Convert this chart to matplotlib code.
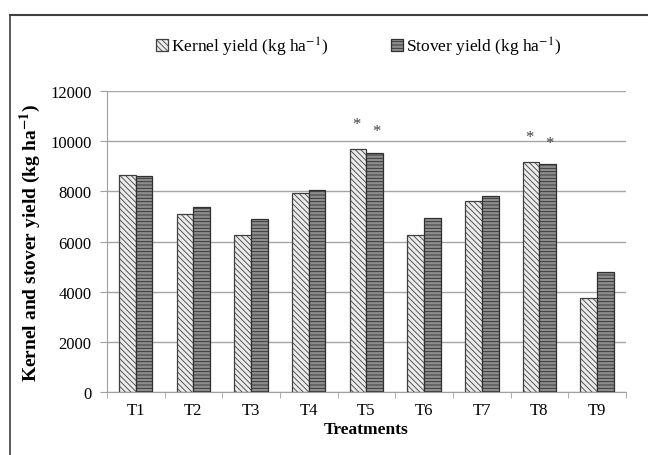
import matplotlib
matplotlib.use('Agg')
import matplotlib.pyplot as plt
from matplotlib.lines import Line2D
import numpy as np

treatments = ['T1', 'T2', 'T3', 'T4', 'T5', 'T6', 'T7', 'T8', 'T9']
kernel = [8650, 7100, 6280, 7920, 9680, 6270, 7600, 9170, 3740]
stover = [8620, 7380, 6900, 8050, 9540, 6950, 7800, 9080, 4780]
# asterisks marking significant treatments
starred = ['T5', 'T8']

plt.rcParams['font.family'] = ['Liberation Serif', 'DejaVu Serif']
plt.rcParams['mathtext.fontset'] = 'stix'
plt.rcParams['hatch.linewidth'] = 0.6

fig = plt.figure(figsize=(6.48, 4.56), dpi=100)
ax = fig.add_axes([0.165, 0.138, 0.801, 0.66])

x = np.arange(len(treatments))
w = 0.29
ax.bar(x - w / 2, kernel, w, color='#ebebeb', edgecolor='#404040', hatch='\\\\\\\\\\\\',
       linewidth=0.9, label=r'Kernel yield (kg ha$^{-1}$)', zorder=3)
ax.bar(x + w / 2, stover, w, color='#8c8c8c', edgecolor='#303030', hatch='-----',
       linewidth=0.9, label=r'Stover yield (kg ha$^{-1}$)', zorder=3)

for t in starred:
    i = treatments.index(t)
    ax.text(i - w / 2 - 0.03, kernel[i] + 1000, '*', ha='center', va='center', fontsize=12, color='#404040')
    ax.text(i + w / 2 + 0.03, stover[i] + 850, '*', ha='center', va='center', fontsize=12, color='#404040')

ax.set_xlim(-0.5, len(treatments) - 0.5)
ax.set_ylim(0, 12000)
ax.set_yticks(range(0, 12001, 2000))
ax.set_xticks(x)
ax.set_xticklabels(treatments, fontsize=12)
ax.set_xticks(np.arange(-0.5, len(treatments)), minor=True)
ax.tick_params(axis='x', which='major', length=0, pad=7)
ax.tick_params(axis='x', which='minor', length=4, color='#a0a0a0', direction='out')
ax.tick_params(axis='y', length=5, color='#a0a0a0', labelsize=12, pad=6)
ax.yaxis.grid(True, color='#a6a6a6', linewidth=1, zorder=0)
for s in ['top', 'right']:
    ax.spines[s].set_visible(False)
ax.spines['left'].set_color('#a0a0a0')
ax.spines['bottom'].set_color('#a0a0a0')

ax.set_xlabel('Treatments', fontsize=12.5, fontweight='bold', labelpad=2)
ax.set_ylabel(r'Kernel and stover yield (kg ha$^{\mathbf{-1}}$)', fontsize=14, fontweight='bold', labelpad=5)

ax.legend(loc='center', bbox_to_anchor=(0.485, 1.15), ncol=2, frameon=False, fontsize=12.5,
          handlelength=0.7, handleheight=0.7, handletextpad=0.2, columnspacing=3.6)

# frame lines of the original figure (top and left only)
fig.add_artist(Line2D([10 / 648, 1], [1 - 16 / 456, 1 - 16 / 456], transform=fig.transFigure, color='#404040', lw=1.5))
fig.add_artist(Line2D([10 / 648, 10 / 648], [0, 1 - 16 / 456], transform=fig.transFigure, color='#404040', lw=1.2))

plt.savefig('out.png', dpi=100)
